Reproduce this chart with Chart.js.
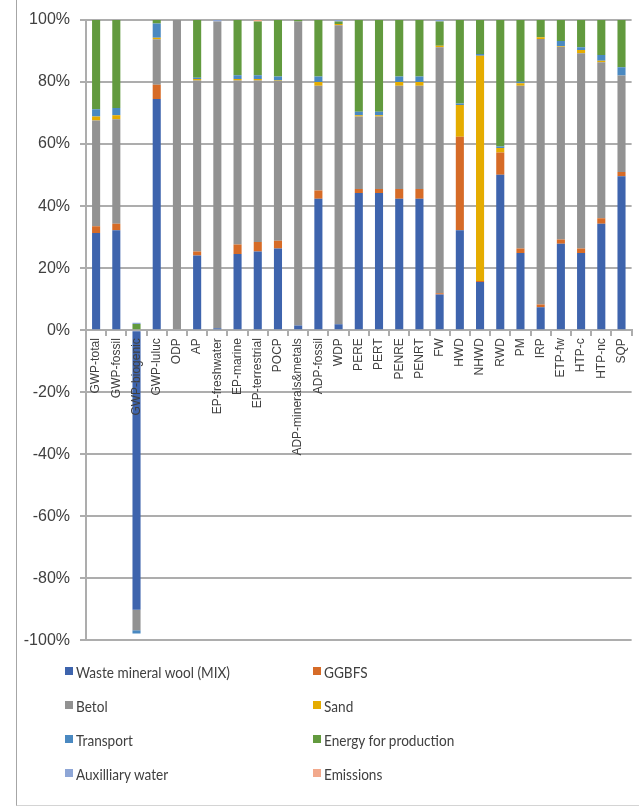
<!DOCTYPE html>
<html>
<head>
<meta charset="utf-8">
<script src="https://cdn.jsdelivr.net/npm/chart.js@4.4.1/dist/chart.umd.min.js"></script>
<style>
  html, body { margin: 0; padding: 0; background: #fff; }
  #wrap { position: relative; width: 639px; height: 808px; overflow: hidden; }
  #frame { position: absolute; left: 16px; top: -1px; width: 640px; height: 806px;
           border-left: 1px solid #a6a6a6; border-bottom: 1px solid #d4d4d4; }
  #chart { position: absolute; left: 0; top: 0; }
  #legend { position: absolute; left: 65px; top: 654px; width: 500px;
            display: grid; grid-template-columns: 248px 248px; grid-auto-rows: 34px;
            font-family: Lato, sans-serif; font-size: 16px; color: #404040; }
  #legend .item { display: flex; align-items: center; white-space: nowrap; }
  #legend .box { width: 8px; height: 8px; margin-right: 3px; flex: none; }
  #legend .txt { display: inline-block; transform: scaleX(0.85); transform-origin: left center; }
</style>
</head>
<body>
<div id="wrap">
  <div id="frame"></div>
  <canvas id="chart" width="639" height="660"></canvas>
  <div id="legend"></div>
</div>
<script>
const categories = ['GWP-total', 'GWP-fossil', 'GWP-biogenic', 'GWP-luluc', 'ODP', 'AP',
  'EP-freshwater', 'EP-marine', 'EP-terrestrial', 'POCP', 'ADP-minerals&metals', 'ADP-fossil',
  'WDP', 'PERE', 'PERT', 'PENRE', 'PENRT', 'FW', 'HWD', 'NHWD', 'RWD', 'PM', 'IRP',
  'ETP-fw', 'HTP-c', 'HTP-nc', 'SQP'];

// shares in %, one value per category
const wasteMineralWool = [31.3, 32.2, -90.1, 74.5, 0, 24.1, 0.6, 24.6, 25.4, 26.3, 1.5, 42.4,
  1.9, 44.2, 44.2, 42.4, 42.4, 11.5, 32.2, 15.5, 50.1, 24.9, 7.4, 27.9, 24.9, 34.3, 49.6];
const ggbfs = [2.2, 2.1, 0, 4.6, 0, 1.3, 0, 3.0, 3.0, 2.5, 0, 2.6,
  0, 1.3, 1.3, 3.1, 3.1, 0.4, 30.2, 0.4, 7.2, 1.4, 0.9, 1.3, 1.4, 1.8, 1.4];
const betol = [34.1, 33.7, -6.6, 14.7, 100, 55.1, 98.9, 52.9, 52.1, 51.5, 98.0, 33.8,
  96.4, 23.4, 23.4, 33.3, 33.3, 79.3, 0, 0, 0, 52.5, 85.6, 62.2, 63.0, 50.3, 31.1];
const sand = [1.3, 1.3, 0, 0.5, 0, 0.5, 0, 0.5, 0.5, 0.2, 0, 1.2,
  0.4, 0.4, 0.4, 1.2, 1.2, 0.5, 10.2, 72.6, 1.4, 0.8, 0.5, 0.2, 1.0, 0.5, 0];
const transport = [2.3, 2.3, -1.1, 4.6, 0, 0.4, 0, 1.2, 1.2, 1.3, 0, 1.8,
  0, 1.1, 1.1, 1.8, 1.8, 0, 0.5, 0.5, 0.5, 0.5, 0, 1.6, 0.9, 1.8, 2.7];
const energy = [28.8, 28.4, 2.0, 1.1, 0, 18.6, 0, 17.8, 17.3, 18.2, 0.5, 18.2,
  0.8, 29.6, 29.6, 18.2, 18.2, 7.8, 26.9, 11.0, 40.8, 19.9, 5.6, 6.8, 8.8, 11.3, 15.2];
const auxWater = [0, 0, 0.4, 0, 0, 0, 0.5, 0, 0, 0, 0, 0,
  0.5, 0, 0, 0, 0, 0.5, 0, 0, 0, 0, 0, 0, 0, 0, 0];
const emissions = [0, 0, 0, 0, 0, 0, 0, 0, 0.5, 0, 0, 0,
  0, 0, 0, 0, 0, 0, 0, 0, 0, 0, 0, 0, 0, 0, 0];

const seriesNames = ['Waste mineral wool (MIX)', 'GGBFS', 'Betol', 'Sand', 'Transport',
  'Energy for production', 'Auxilliary water', 'Emissions'];
const seriesData = [wasteMineralWool, ggbfs, betol, sand, transport, energy, auxWater, emissions];
const seriesColors = ['#3e64ad', '#d66b27', '#929292', '#e5ac00', '#4a89c1', '#629a3e', '#8ea6d6', '#f2a98c'];

const gridColor = '#adadad';
const textColor = '#404040';

const ctx = document.getElementById('chart').getContext('2d');
const chart = new Chart(ctx, {
  type: 'bar',
  data: {
    labels: categories,
    datasets: seriesNames.map((name, i) => ({
      label: name,
      data: seriesData[i],
      backgroundColor: seriesColors[i],
      borderWidth: 0,
      barPercentage: 0.4,
      categoryPercentage: 1.0
    }))
  },
  options: {
    responsive: false,
    animation: false,
    devicePixelRatio: 1,
    layout: { padding: { top: 20, right: 5, bottom: 0, left: 0 } },
    plugins: { legend: { display: false }, tooltip: { enabled: false } },
    scales: {
      x: {
        stacked: true,
        position: { y: 0 },
        afterFit: (scale) => { scale.height = 0; },
        grid: { display: true, drawOnChartArea: false, drawTicks: true, tickLength: 5,
                offset: true, color: gridColor, lineWidth: 2 },
        border: { display: true, color: gridColor, width: 2 },
        ticks: {
          z: 1,
          minRotation: 90, maxRotation: 90, autoSkip: false, padding: 3,
          color: textColor,
          font: { family: "'Liberation Sans', sans-serif", size: 12 }
        }
      },
      y: {
        stacked: true,
        min: -100, max: 100,
        afterFit: (scale) => { scale.width = 86; },
        grid: { color: gridColor, lineWidth: 2, drawTicks: true, tickLength: 6 },
        border: { display: true, color: gridColor, width: 2 },
        ticks: {
          stepSize: 20, padding: 10, color: textColor,
          font: { family: "'Liberation Sans', sans-serif", size: 16 },
          callback: (v) => v + '%'
        }
      }
    }
  }
});

// legend, two columns, built from the chart's datasets
const legendEl = document.getElementById('legend');
chart.data.datasets.forEach(ds => {
  const item = document.createElement('div');
  item.className = 'item';
  const box = document.createElement('span');
  box.className = 'box';
  box.style.background = ds.backgroundColor;
  const txt = document.createElement('span');
  txt.className = 'txt';
  txt.textContent = ds.label;
  item.appendChild(box);
  item.appendChild(txt);
  legendEl.appendChild(item);
});
</script>
</body>
</html>
